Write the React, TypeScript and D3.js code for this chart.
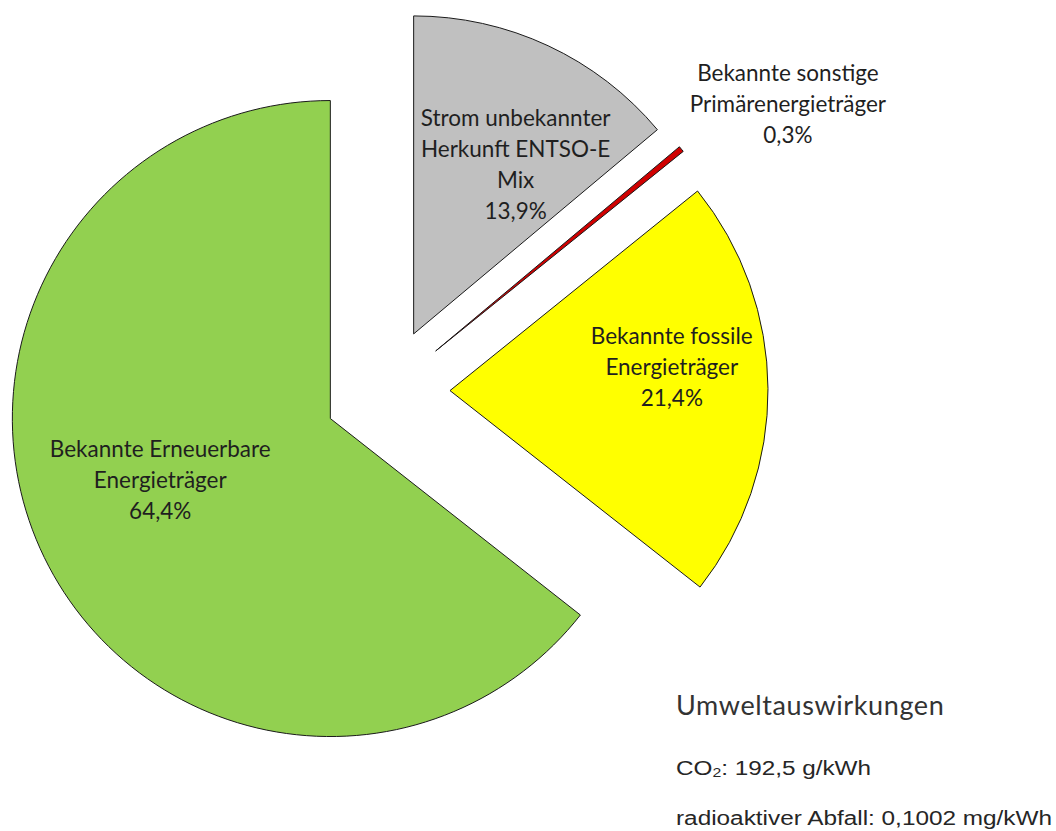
import * as d3 from 'd3';

const categories = [
  'Strom unbekannter Herkunft ENTSO-E Mix',
  'Bekannte sonstige Primärenergieträger',
  'Bekannte fossile Energieträger',
  'Bekannte Erneuerbare Energieträger',
];
const shares = [13.9, 0.3, 21.4, 64.4];
const shareLabels = ['13,9%', '0,3%', '21,4%', '64,4%'];
const labelLines = [
  ['Strom unbekannter', 'Herkunft ENTSO-E', 'Mix'],
  ['Bekannte sonstige', 'Primärenergieträger'],
  ['Bekannte fossile', 'Energieträger'],
  ['Bekannte Erneuerbare', 'Energieträger'],
];
const sliceColors = ['#c0c0c0', '#d00000', '#ffff00', '#92d050'];
const impactTitle = 'Umweltauswirkungen';
const impactLines = [
  { pre: 'CO', sub: '2', post: ': 192,5 g/kWh' },
  { pre: 'radioaktiver  Abfall: 0,1002 mg/kWh', sub: '', post: '' },
];

const W = 1056;
const H = 831;
const cx = 387;
const cy = 391;
const radius = 318;
const explode = 63;
const lineH = 31;

// label placement: distance from the slice apex and angle (deg) from 12 o'clock
const labelPlace = [
  { dist: 198, angle: 31 },
  { dist: 430, angle: 55 },
  { dist: 223, angle: 84 },
  { dist: 181, angle: 250 },
];
const impactWidths = [195, 376];

export default function App() {
  const pie = d3.pie<number>().sort(null).value((d) => d);
  const arcs = pie(shares);
  const arc = d3.arc<d3.PieArcDatum<number>>().innerRadius(0).outerRadius(radius);

  const offsets = arcs.map((a) => {
    const mid = (a.startAngle + a.endAngle) / 2;
    return [explode * Math.sin(mid), -explode * Math.cos(mid)];
  });

  return (
    <svg
      width={W}
      height={H}
      style={{ position: 'absolute', left: 0, top: 0, background: '#fff' }}
    >
      <g transform={`translate(${cx},${cy})`}>
        {arcs.map((a, i) => (
          <path
            key={categories[i]}
            d={arc(a) || ''}
            transform={`translate(${offsets[i][0]},${offsets[i][1]})`}
            fill={sliceColors[i]}
            stroke="#1a1a1a"
            strokeWidth={1}
            strokeLinejoin="miter"
          />
        ))}
        {arcs.map((a, i) => {
          const p = labelPlace[i];
          const ang = (p.angle * Math.PI) / 180;
          const x = offsets[i][0] + p.dist * Math.sin(ang);
          const y = offsets[i][1] - p.dist * Math.cos(ang);
          const lines = [...labelLines[i], shareLabels[i]];
          return (
            <text
              key={`l${i}`}
              textAnchor="middle"
              fontFamily="Lato, 'Open Sans', sans-serif"
              fontSize={22.5}
              fill="#1f1f1f"
            >
              {lines.map((t, j) => (
                <tspan key={j} x={x} y={y + (j - (lines.length - 1) / 2) * lineH} dy="0.35em">
                  {t}
                </tspan>
              ))}
            </text>
          );
        })}
      </g>
      <text x={676} y={706} dy="0.35em" fontFamily="Lato, sans-serif" fontSize={27} fill="#333" letterSpacing={0.6}>
        {impactTitle}
      </text>
      {impactLines.map((l, i) => (
        <text
          key={i}
          x={676}
          y={768 + i * 50}
          dy="0.35em"
          fontFamily="'Liberation Sans', Arial, sans-serif"
          fontSize={20}
          fill="#262626"
          textLength={impactWidths[i]}
          lengthAdjust="spacingAndGlyphs"
        >
          {l.pre}
          {l.sub && (
            <tspan fontSize={13} dy="2">
              {l.sub}
            </tspan>
          )}
          {l.post && <tspan dy="-2">{l.post}</tspan>}
        </text>
      ))}
    </svg>
  );
}
